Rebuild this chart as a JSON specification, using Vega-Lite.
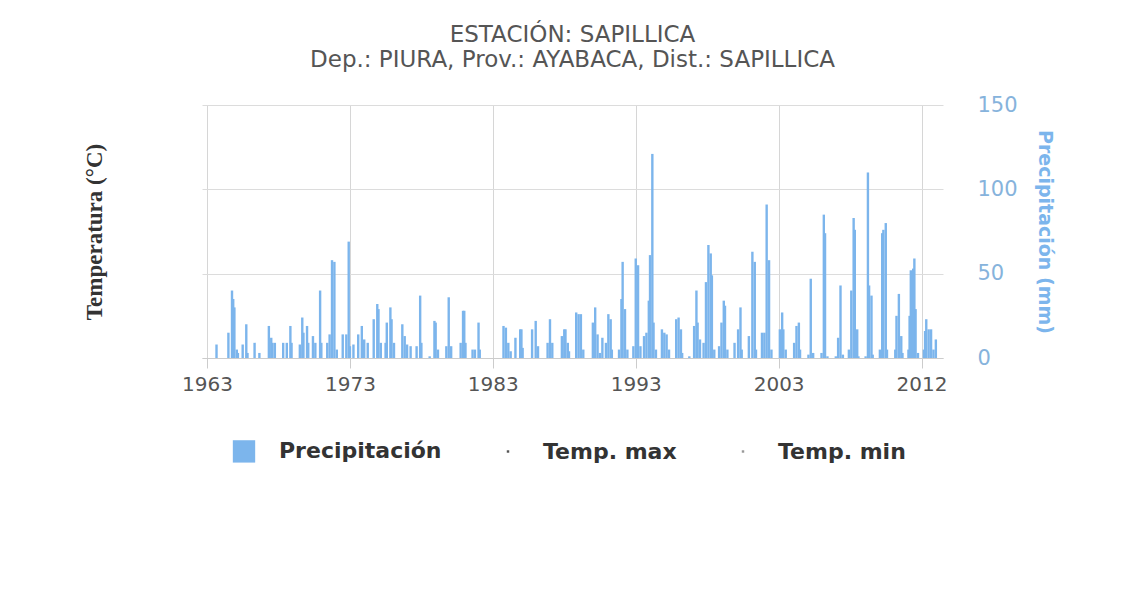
{
  "$schema": "https://vega.github.io/schema/vega-lite/v6.json",
  "width": 741,
  "height": 253,
  "autosize": {"type": "none"},
  "padding": {"left": 202, "top": 105, "right": 199, "bottom": 231},
  "background": "white",
  "config": {"view": {"stroke": null}},
  "title": {
    "text": "ESTACIÓN: SAPILLICA",
    "subtitle": "Dep.: PIURA, Prov.: AYABACA, Dist.: SAPILLICA",
    "anchor": "middle",
    "frame": "group",
    "font": "DejaVu Sans",
    "fontSize": 23,
    "fontWeight": "normal",
    "color": "#555555",
    "subtitleFont": "DejaVu Sans",
    "subtitleFontSize": 23,
    "subtitleColor": "#555555",
    "subtitlePadding": 2,
    "offset": 22
  },
  "data": {
    "values": [
      {"fecha": "1963-09", "pp": 8},
      {"fecha": "1964-07", "pp": 15},
      {"fecha": "1964-10", "pp": 40},
      {"fecha": "1964-11", "pp": 35},
      {"fecha": "1964-12", "pp": 30},
      {"fecha": "1965-02", "pp": 5},
      {"fecha": "1965-03", "pp": 3},
      {"fecha": "1965-07", "pp": 8},
      {"fecha": "1965-10", "pp": 20},
      {"fecha": "1965-11", "pp": 3},
      {"fecha": "1966-05", "pp": 9},
      {"fecha": "1966-09", "pp": 3},
      {"fecha": "1967-05", "pp": 19},
      {"fecha": "1967-07", "pp": 12},
      {"fecha": "1967-08", "pp": 9},
      {"fecha": "1967-10", "pp": 9},
      {"fecha": "1968-05", "pp": 9},
      {"fecha": "1968-08", "pp": 9},
      {"fecha": "1968-11", "pp": 19},
      {"fecha": "1968-12", "pp": 9},
      {"fecha": "1969-07", "pp": 8},
      {"fecha": "1969-09", "pp": 24},
      {"fecha": "1969-10", "pp": 15},
      {"fecha": "1970-01", "pp": 19},
      {"fecha": "1970-02", "pp": 9},
      {"fecha": "1970-06", "pp": 13},
      {"fecha": "1970-08", "pp": 9},
      {"fecha": "1970-12", "pp": 40},
      {"fecha": "1971-01", "pp": 9},
      {"fecha": "1971-06", "pp": 9},
      {"fecha": "1971-08", "pp": 14},
      {"fecha": "1971-10", "pp": 58},
      {"fecha": "1971-12", "pp": 57},
      {"fecha": "1972-02", "pp": 5},
      {"fecha": "1972-07", "pp": 14},
      {"fecha": "1972-10", "pp": 14},
      {"fecha": "1972-12", "pp": 69},
      {"fecha": "1973-01", "pp": 7},
      {"fecha": "1973-04", "pp": 8},
      {"fecha": "1973-08", "pp": 14},
      {"fecha": "1973-11", "pp": 19},
      {"fecha": "1974-01", "pp": 11},
      {"fecha": "1974-04", "pp": 9},
      {"fecha": "1974-09", "pp": 23},
      {"fecha": "1974-12", "pp": 32},
      {"fecha": "1975-01", "pp": 29},
      {"fecha": "1975-03", "pp": 9},
      {"fecha": "1975-07", "pp": 9},
      {"fecha": "1975-08", "pp": 21},
      {"fecha": "1975-11", "pp": 30},
      {"fecha": "1975-12", "pp": 23},
      {"fecha": "1976-02", "pp": 9},
      {"fecha": "1976-09", "pp": 20},
      {"fecha": "1976-11", "pp": 13},
      {"fecha": "1977-01", "pp": 8},
      {"fecha": "1977-04", "pp": 7},
      {"fecha": "1977-09", "pp": 7},
      {"fecha": "1977-12", "pp": 37},
      {"fecha": "1978-01", "pp": 9},
      {"fecha": "1978-08", "pp": 1},
      {"fecha": "1978-12", "pp": 22},
      {"fecha": "1979-01", "pp": 21},
      {"fecha": "1979-03", "pp": 5},
      {"fecha": "1979-10", "pp": 7},
      {"fecha": "1979-12", "pp": 36},
      {"fecha": "1980-02", "pp": 7},
      {"fecha": "1980-10", "pp": 9},
      {"fecha": "1980-12", "pp": 28},
      {"fecha": "1981-01", "pp": 28},
      {"fecha": "1981-02", "pp": 9},
      {"fecha": "1981-08", "pp": 5},
      {"fecha": "1981-10", "pp": 5},
      {"fecha": "1982-01", "pp": 21},
      {"fecha": "1982-02", "pp": 5},
      {"fecha": "1983-10", "pp": 19},
      {"fecha": "1983-12", "pp": 18},
      {"fecha": "1984-02", "pp": 9},
      {"fecha": "1984-04", "pp": 4},
      {"fecha": "1984-08", "pp": 12},
      {"fecha": "1984-12", "pp": 17},
      {"fecha": "1985-01", "pp": 17},
      {"fecha": "1985-02", "pp": 6},
      {"fecha": "1985-10", "pp": 17},
      {"fecha": "1986-01", "pp": 22},
      {"fecha": "1986-03", "pp": 7},
      {"fecha": "1986-11", "pp": 9},
      {"fecha": "1987-01", "pp": 23},
      {"fecha": "1987-03", "pp": 9},
      {"fecha": "1987-11", "pp": 13},
      {"fecha": "1988-01", "pp": 17},
      {"fecha": "1988-02", "pp": 17},
      {"fecha": "1988-04", "pp": 9},
      {"fecha": "1988-05", "pp": 4},
      {"fecha": "1988-11", "pp": 27},
      {"fecha": "1989-01", "pp": 26},
      {"fecha": "1989-03", "pp": 26},
      {"fecha": "1989-05", "pp": 5},
      {"fecha": "1990-01", "pp": 21},
      {"fecha": "1990-03", "pp": 30},
      {"fecha": "1990-05", "pp": 14},
      {"fecha": "1990-07", "pp": 3},
      {"fecha": "1990-09", "pp": 12},
      {"fecha": "1990-12", "pp": 9},
      {"fecha": "1991-02", "pp": 26},
      {"fecha": "1991-04", "pp": 23},
      {"fecha": "1991-05", "pp": 5},
      {"fecha": "1991-11", "pp": 5},
      {"fecha": "1992-01", "pp": 35},
      {"fecha": "1992-02", "pp": 57},
      {"fecha": "1992-04", "pp": 29},
      {"fecha": "1992-06", "pp": 5},
      {"fecha": "1992-11", "pp": 7},
      {"fecha": "1993-01", "pp": 59},
      {"fecha": "1993-03", "pp": 55},
      {"fecha": "1993-05", "pp": 7},
      {"fecha": "1993-08", "pp": 13},
      {"fecha": "1993-10", "pp": 15},
      {"fecha": "1993-12", "pp": 34},
      {"fecha": "1994-01", "pp": 61},
      {"fecha": "1994-03", "pp": 121},
      {"fecha": "1994-04", "pp": 21},
      {"fecha": "1994-06", "pp": 5},
      {"fecha": "1994-11", "pp": 17},
      {"fecha": "1995-01", "pp": 15},
      {"fecha": "1995-03", "pp": 14},
      {"fecha": "1995-05", "pp": 5},
      {"fecha": "1995-11", "pp": 23},
      {"fecha": "1996-01", "pp": 24},
      {"fecha": "1996-03", "pp": 17},
      {"fecha": "1996-04", "pp": 3},
      {"fecha": "1996-10", "pp": 1},
      {"fecha": "1997-02", "pp": 19},
      {"fecha": "1997-04", "pp": 40},
      {"fecha": "1997-05", "pp": 21},
      {"fecha": "1997-07", "pp": 11},
      {"fecha": "1997-10", "pp": 9},
      {"fecha": "1997-12", "pp": 45},
      {"fecha": "1998-02", "pp": 67},
      {"fecha": "1998-04", "pp": 62},
      {"fecha": "1998-05", "pp": 49},
      {"fecha": "1998-07", "pp": 5},
      {"fecha": "1998-11", "pp": 7},
      {"fecha": "1999-01", "pp": 21},
      {"fecha": "1999-03", "pp": 34},
      {"fecha": "1999-04", "pp": 31},
      {"fecha": "1999-06", "pp": 5},
      {"fecha": "1999-12", "pp": 9},
      {"fecha": "2000-03", "pp": 17},
      {"fecha": "2000-05", "pp": 30},
      {"fecha": "2000-06", "pp": 5},
      {"fecha": "2000-12", "pp": 13},
      {"fecha": "2001-03", "pp": 63},
      {"fecha": "2001-05", "pp": 57},
      {"fecha": "2001-06", "pp": 5},
      {"fecha": "2001-11", "pp": 15},
      {"fecha": "2002-01", "pp": 15},
      {"fecha": "2002-03", "pp": 91},
      {"fecha": "2002-05", "pp": 58},
      {"fecha": "2002-07", "pp": 5},
      {"fecha": "2003-02", "pp": 17},
      {"fecha": "2003-04", "pp": 27},
      {"fecha": "2003-05", "pp": 17},
      {"fecha": "2003-07", "pp": 5},
      {"fecha": "2004-02", "pp": 9},
      {"fecha": "2004-04", "pp": 19},
      {"fecha": "2004-06", "pp": 21},
      {"fecha": "2004-07", "pp": 5},
      {"fecha": "2005-02", "pp": 2},
      {"fecha": "2005-04", "pp": 47},
      {"fecha": "2005-06", "pp": 3},
      {"fecha": "2006-01", "pp": 3},
      {"fecha": "2006-03", "pp": 85},
      {"fecha": "2006-04", "pp": 74},
      {"fecha": "2006-06", "pp": 1},
      {"fecha": "2007-01", "pp": 1},
      {"fecha": "2007-03", "pp": 12},
      {"fecha": "2007-05", "pp": 43},
      {"fecha": "2007-07", "pp": 2},
      {"fecha": "2007-12", "pp": 5},
      {"fecha": "2008-02", "pp": 40},
      {"fecha": "2008-04", "pp": 83},
      {"fecha": "2008-05", "pp": 76},
      {"fecha": "2008-07", "pp": 17},
      {"fecha": "2008-08", "pp": 1},
      {"fecha": "2009-02", "pp": 1},
      {"fecha": "2009-04", "pp": 110},
      {"fecha": "2009-05", "pp": 43},
      {"fecha": "2009-07", "pp": 37},
      {"fecha": "2009-08", "pp": 2},
      {"fecha": "2010-02", "pp": 5},
      {"fecha": "2010-04", "pp": 74},
      {"fecha": "2010-05", "pp": 76},
      {"fecha": "2010-07", "pp": 80},
      {"fecha": "2010-08", "pp": 5},
      {"fecha": "2011-03", "pp": 5},
      {"fecha": "2011-04", "pp": 25},
      {"fecha": "2011-06", "pp": 38},
      {"fecha": "2011-08", "pp": 13},
      {"fecha": "2011-09", "pp": 3},
      {"fecha": "2012-02", "pp": 5},
      {"fecha": "2012-03", "pp": 25},
      {"fecha": "2012-04", "pp": 52},
      {"fecha": "2012-06", "pp": 53},
      {"fecha": "2012-07", "pp": 59},
      {"fecha": "2012-08", "pp": 29},
      {"fecha": "2012-10", "pp": 3},
      {"fecha": "2013-03", "pp": 5},
      {"fecha": "2013-04", "pp": 16},
      {"fecha": "2013-05", "pp": 23},
      {"fecha": "2013-07", "pp": 17},
      {"fecha": "2013-09", "pp": 17},
      {"fecha": "2013-11", "pp": 5},
      {"fecha": "2014-01", "pp": 11}
    ]
  },
  "layer": [
    {
      "mark": {"type": "bar", "width": 2.4},
      "encoding": {
        "x": {
          "field": "fecha",
          "type": "temporal",
          "scale": {"domain": [{"year": 1963, "month": 1, "date": 1}, {"year": 2014, "month": 2, "date": 25}]},
          "axis": {
            "title": null,
            "values": [{"year": 1963, "month": 1, "date": 1}, {"year": 1973, "month": 1, "date": 1}, {"year": 1983, "month": 1, "date": 1}, {"year": 1993, "month": 1, "date": 1}, {"year": 2003, "month": 1, "date": 1}, {"year": 2012, "month": 12, "date": 31}],
            "format": "%Y",
            "labelFont": "DejaVu Sans",
            "labelFontSize": 20,
            "labelColor": "#555555",
            "labelPadding": 6,
            "labelFlush": false,
            "labelOverlap": false,
            "grid": true,
            "gridColor": "#d6d6d6",
            "tickSize": 10,
            "tickColor": "#cccccc",
            "domainColor": "#cccccc"
          }
        },
        "y": {
          "field": "pp",
          "type": "quantitative",
          "scale": {"domain": [0, 150], "nice": false},
          "axis": {
            "orient": "right",
            "values": [0, 50, 100, 150],
            "title": "Precipitación (mm)",
            "titleFont": "DejaVu Sans",
            "titleFontSize": 19,
            "titleFontWeight": "bold",
            "titleColor": "#7cb5ec",
            "titlePadding": 17,
            "labelFont": "DejaVu Sans",
            "labelFontSize": 21,
            "labelColor": "#86b3dc",
            "labelPadding": 34,
            "ticks": false,
            "domain": false,
            "grid": true,
            "gridColor": "#dcdcdc"
          }
        },
        "color": {
          "datum": "Precipitación",
          "type": "nominal",
          "scale": {"domain": ["Precipitación", "Temp. max", "Temp. min"], "range": ["#7cb5ec", "#555555", "#999999"]},
          "legend": {
            "title": null,
            "orient": "none",
            "direction": "horizontal",
            "legendX": 31,
            "legendY": 335,
            "padding": 0,
            "symbolType": "square",
            "symbolSize": 500,
            "symbolStrokeWidth": 0,
            "labelFont": "DejaVu Sans",
            "labelFontSize": 22,
            "labelFontWeight": "bold",
            "labelColor": "#333333",
            "labelOffset": 24,
            "labelLimit": 400,
            "columnPadding": 55,
            "encode": {
              "symbols": {"update": {"size": {"signal": "datum.value === 'Precipitación' ? 500 : 6"}}}
            }
          }
        }
      }
    },
    {
      "mark": {"type": "point", "filled": true},
      "encoding": {
        "y": {
          "field": "tmax",
          "type": "quantitative",
          "scale": {"domain": [0, 30]},
          "axis": {
            "orient": "left",
            "title": "Temperatura (°C)",
            "titleFont": "Liberation Serif",
            "titleFontSize": 23,
            "titleFontWeight": "bold",
            "titleColor": "#333333",
            "titlePadding": 96,
            "labels": false,
            "ticks": false,
            "domain": false,
            "grid": false
          }
        }
      }
    }
  ],
  "resolve": {"scale": {"y": "independent"}, "axis": {"y": "independent"}}
}
